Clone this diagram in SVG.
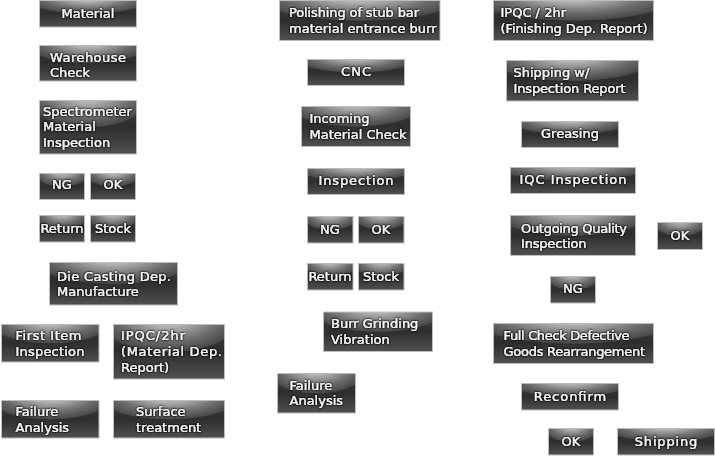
<svg xmlns="http://www.w3.org/2000/svg" width="715" height="456" viewBox="0 0 715 456">
<defs>
<linearGradient id="gBase" x1="0" y1="0" x2="0" y2="1">
<stop offset="0" stop-color="#3a3a3a"/>
<stop offset="0.5" stop-color="#2e2e2e"/>
<stop offset="1" stop-color="#505050"/>
</linearGradient>
<radialGradient id="gGloss" cx="0.5" cy="-0.15" r="0.66">
<stop offset="0" stop-color="#d8d8d8"/>
<stop offset="0.3" stop-color="#b0b0b0"/>
<stop offset="0.7" stop-color="#6c6c6c"/>
<stop offset="0.97" stop-color="#4a4a4a"/>
<stop offset="0.99" stop-color="#444444" stop-opacity="0.6"/>
<stop offset="1" stop-color="#444444" stop-opacity="0"/>
</radialGradient>
<filter id="glow" x="-20%" y="-40%" width="140%" height="180%">
<feGaussianBlur in="SourceAlpha" stdDeviation="1.3" result="b"/>
<feComponentTransfer in="b" result="s"><feFuncA type="linear" slope="1.8"/></feComponentTransfer>
<feMerge><feMergeNode in="s"/><feMergeNode in="SourceGraphic"/></feMerge>
</filter>
</defs>
<style>
.base{fill:url(#gBase);}
.gloss{fill:url(#gGloss);stroke:#bdbdbd;stroke-width:1;}
text{font-family:"DejaVu Sans","Liberation Sans",sans-serif;font-size:13px;fill:#f6f6f6;stroke:#f6f6f6;stroke-width:0.2;filter:url(#glow);}
.c{text-anchor:middle;}
</style>
<rect width="715" height="456" fill="#ffffff"/>
<g id="connectors"/>

<g id="n-material"><rect class="base" x="39.5" y="0.5" width="97" height="26.5"/><rect class="gloss" x="39.5" y="0.5" width="97" height="26.5"/><text class="c" x="88" y="18">Material</text></g>
<g id="n-warehouse"><rect class="base" x="39.5" y="45.5" width="97" height="35.5"/><rect class="gloss" x="39.5" y="45.5" width="97" height="35.5"/><text x="50" y="61.5" textLength="76">Warehouse</text><text x="50" y="77">Check</text></g>
<g id="n-spectrometer"><rect class="base" x="39.5" y="100.5" width="97" height="53.5"/><rect class="gloss" x="39.5" y="100.5" width="97" height="53.5"/><text x="43" y="115.5">Spectrometer</text><text x="43" y="131">Material</text><text x="43" y="147">Inspection</text></g>
<g id="n-ng1"><rect class="base" x="39.5" y="173.5" width="45" height="26"/><rect class="gloss" x="39.5" y="173.5" width="45" height="26"/><text class="c" x="62" y="189">NG</text></g>
<g id="n-ok1"><rect class="base" x="90.5" y="173.5" width="45" height="26"/><rect class="gloss" x="90.5" y="173.5" width="45" height="26"/><text class="c" x="113" y="189">OK</text></g>
<g id="n-return1"><rect class="base" x="39.5" y="215.5" width="45" height="26.5"/><rect class="gloss" x="39.5" y="215.5" width="45" height="26.5"/><text class="c" x="62" y="233">Return</text></g>
<g id="n-stock1"><rect class="base" x="90.5" y="215.5" width="45" height="26.5"/><rect class="gloss" x="90.5" y="215.5" width="45" height="26.5"/><text class="c" x="113" y="233">Stock</text></g>
<g id="n-diecasting"><rect class="base" x="49.5" y="262.5" width="128" height="42.5"/><rect class="gloss" x="49.5" y="262.5" width="128" height="42.5"/><text x="57" y="280.5" textLength="114">Die Casting Dep.</text><text x="57" y="296">Manufacture</text></g>
<g id="n-firstitem"><rect class="base" x="1.5" y="324.5" width="97.5" height="37.5"/><rect class="gloss" x="1.5" y="324.5" width="97.5" height="37.5"/><text x="15.5" y="340" textLength="66">First Item</text><text x="15.5" y="356" textLength="69">Inspection</text></g>
<g id="n-ipqc1"><rect class="base" x="113.5" y="324.5" width="111" height="54.5"/><rect class="gloss" x="113.5" y="324.5" width="111" height="54.5"/><text x="121" y="340" textLength="64">IPQC/2hr</text><text x="121" y="356" textLength="101">(Material Dep.</text><text x="121" y="372">Report)</text></g>
<g id="n-failure1"><rect class="base" x="1.5" y="400.5" width="97.5" height="37.5"/><rect class="gloss" x="1.5" y="400.5" width="97.5" height="37.5"/><text x="15.5" y="415.5">Failure</text><text x="15.5" y="431.5">Analysis</text></g>
<g id="n-surface"><rect class="base" x="113.5" y="400.5" width="111" height="37.5"/><rect class="gloss" x="113.5" y="400.5" width="111" height="37.5"/><text x="136" y="415.5">Surface</text><text x="136" y="431.5">treatment</text></g>

<g id="n-polishing"><rect class="base" x="279.5" y="0.5" width="160.5" height="40"/><rect class="gloss" x="279.5" y="0.5" width="160.5" height="40"/><text x="289" y="16.5" textLength="130">Polishing of stub bar</text><text x="289" y="32.5">material entrance burr</text></g>
<g id="n-cnc"><rect class="base" x="307.5" y="59.5" width="97" height="26"/><rect class="gloss" x="307.5" y="59.5" width="97" height="26"/><text class="c" x="356" y="76" textLength="30">CNC</text></g>
<g id="n-incoming"><rect class="base" x="301.5" y="106.5" width="109" height="40"/><rect class="gloss" x="301.5" y="106.5" width="109" height="40"/><text x="309.5" y="123">Incoming</text><text x="309.5" y="139">Material Check</text></g>
<g id="n-inspection"><rect class="base" x="307.5" y="168.5" width="97" height="26"/><rect class="gloss" x="307.5" y="168.5" width="97" height="26"/><text class="c" x="356" y="185" textLength="75">Inspection</text></g>
<g id="n-ng2"><rect class="base" x="307.5" y="216.5" width="45.5" height="26.5"/><rect class="gloss" x="307.5" y="216.5" width="45.5" height="26.5"/><text class="c" x="330" y="233.5">NG</text></g>
<g id="n-ok2"><rect class="base" x="358.5" y="216.5" width="45.5" height="26.5"/><rect class="gloss" x="358.5" y="216.5" width="45.5" height="26.5"/><text class="c" x="381" y="233.5">OK</text></g>
<g id="n-return2"><rect class="base" x="307.5" y="263.5" width="45.5" height="26.5"/><rect class="gloss" x="307.5" y="263.5" width="45.5" height="26.5"/><text class="c" x="330" y="280.5">Return</text></g>
<g id="n-stock2"><rect class="base" x="358.5" y="263.5" width="45.5" height="26.5"/><rect class="gloss" x="358.5" y="263.5" width="45.5" height="26.5"/><text class="c" x="381" y="280.5">Stock</text></g>
<g id="n-burr"><rect class="base" x="323.5" y="312" width="109" height="39.5"/><rect class="gloss" x="323.5" y="312" width="109" height="39.5"/><text x="331" y="328">Burr Grinding</text><text x="331" y="343.5">Vibration</text></g>
<g id="n-failure2"><rect class="base" x="277.5" y="373.5" width="78" height="39.5"/><rect class="gloss" x="277.5" y="373.5" width="78" height="39.5"/><text x="289.5" y="389.5">Failure</text><text x="289.5" y="405">Analysis</text></g>

<g id="n-ipqc2"><rect class="base" x="493.5" y="0.5" width="160" height="40"/><rect class="gloss" x="493.5" y="0.5" width="160" height="40"/><text x="500.5" y="16.5">IPQC / 2hr</text><text x="500.5" y="33" textLength="147">(Finishing Dep. Report)</text></g>
<g id="n-shippingw"><rect class="base" x="506.5" y="60.5" width="132" height="40.5"/><rect class="gloss" x="506.5" y="60.5" width="132" height="40.5"/><text x="513.5" y="76.5">Shipping w/</text><text x="513.5" y="92.5" textLength="112">Inspection Report</text></g>
<g id="n-greasing"><rect class="base" x="521.5" y="121.5" width="97" height="26"/><rect class="gloss" x="521.5" y="121.5" width="97" height="26"/><text class="c" x="570" y="137.5">Greasing</text></g>
<g id="n-iqc"><rect class="base" x="510.5" y="167.5" width="125" height="26"/><rect class="gloss" x="510.5" y="167.5" width="125" height="26"/><text class="c" x="573" y="184" textLength="107">IQC Inspection</text></g>
<g id="n-outgoing"><rect class="base" x="510.5" y="215.5" width="125" height="40"/><rect class="gloss" x="510.5" y="215.5" width="125" height="40"/><text x="521" y="232.5" textLength="106">Outgoing Quality</text><text x="521" y="248" textLength="65.5">Inspection</text></g>
<g id="n-ok3"><rect class="base" x="657.5" y="222.5" width="45" height="27"/><rect class="gloss" x="657.5" y="222.5" width="45" height="27"/><text class="c" x="680" y="240">OK</text></g>
<g id="n-ng3"><rect class="base" x="550.5" y="276.5" width="45" height="26.5"/><rect class="gloss" x="550.5" y="276.5" width="45" height="26.5"/><text class="c" x="573" y="293">NG</text></g>
<g id="n-fullcheck"><rect class="base" x="493.5" y="323.5" width="160" height="40"/><rect class="gloss" x="493.5" y="323.5" width="160" height="40"/><text x="503.5" y="340" textLength="126">Full Check Defective</text><text x="503.5" y="356" textLength="141.5">Goods Rearrangement</text></g>
<g id="n-reconfirm"><rect class="base" x="521.5" y="383.5" width="97" height="26.5"/><rect class="gloss" x="521.5" y="383.5" width="97" height="26.5"/><text class="c" x="570" y="401" textLength="72.5">Reconfirm</text></g>
<g id="n-ok4"><rect class="base" x="548.5" y="428.5" width="45" height="26.5"/><rect class="gloss" x="548.5" y="428.5" width="45" height="26.5"/><text class="c" x="571" y="446">OK</text></g>
<g id="n-shipping"><rect class="base" x="617.5" y="428.5" width="97" height="26.5"/><rect class="gloss" x="617.5" y="428.5" width="97" height="26.5"/><text class="c" x="666" y="446" textLength="62.5">Shipping</text></g>
</svg>
